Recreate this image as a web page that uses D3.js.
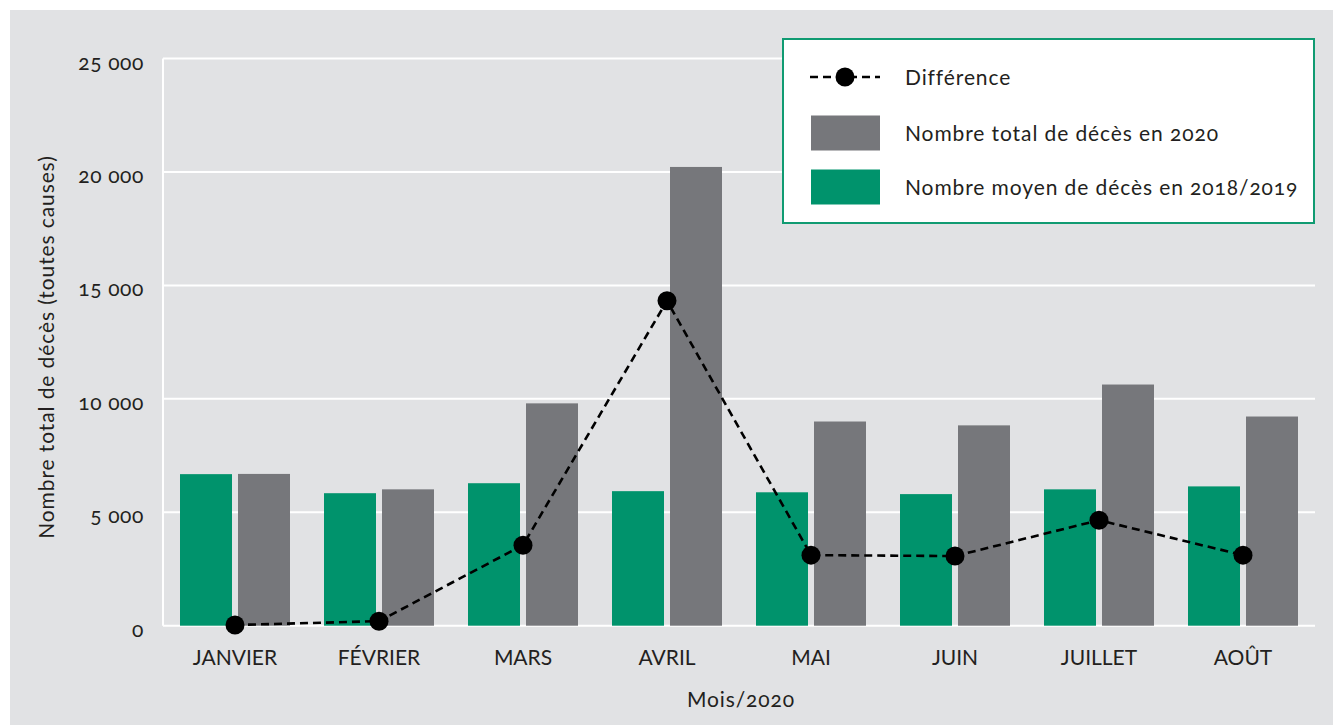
<!DOCTYPE html>
<html lang="fr">
<head>
<meta charset="utf-8">
<script src="https://cdn.jsdelivr.net/npm/d3@7/dist/d3.min.js"></script>
<style>
  html, body { margin: 0; padding: 0; background: #ffffff; }
  svg { display: block; }
  text { font-family: Lato, "Open Sans", sans-serif; fill: #231f20; }
  .num { font-feature-settings: "onum" 1; }
</style>
</head>
<body>
<svg id="chart" width="1333" height="725"></svg>
<script>
// Monthly deaths (all causes), 2020 vs. average 2018/2019
const months = ["JANVIER", "FÉVRIER", "MARS", "AVRIL", "MAI", "JUIN", "JUILLET", "AOÛT"];
const average2018_2019 = [6680, 5840, 6280, 5930, 5880, 5800, 6010, 6140];
const total2020 = [6690, 6010, 9800, 20220, 9000, 8830, 10630, 9220];
const difference = [30, 200, 3550, 14320, 3110, 3070, 4650, 3110];
const yTicks = [0, 5000, 10000, 15000, 20000, 25000];
const seriesKeys = ["avg", "total"];
const seriesLabels = {
  diff: "Différence",
  total: "Nombre total de décès en 2020",
  avg: "Nombre moyen de décès en 2018/2019"
};
const colors = { avg: "#00936c", total: "#76777b", diff: "#000000" };

const rows = months.map((m, i) => ({
  month: m,
  avg: average2018_2019[i],
  total: total2020[i],
  diff: difference[i]
}));

const svg = d3.select("#chart");
const W = 1333, H = 725;
const plot = { left: 163, right: 1315, top: 58.5, bottom: 625.7 };
const FS = "21px";

// Panel background
svg.append("rect")
  .attr("x", 10).attr("y", 10)
  .attr("width", W - 10).attr("height", H - 10)
  .attr("fill", "#e1e2e4");

const x = d3.scaleBand()
  .domain(months)
  .range([plot.left, plot.right])
  .paddingInner(34 / 144)
  .paddingOuter(17 / 144);

const xSub = d3.scaleBand()
  .domain(seriesKeys)
  .range([0, x.bandwidth()])
  .paddingInner(6 / 58)
  .paddingOuter(0);

const y = d3.scaleLinear()
  .domain([0, 25000])
  .range([plot.bottom, plot.top]);

const fmt = v => d3.format(",")(v).replace(/,/g, " ");

// Horizontal grid lines
svg.append("g")
  .selectAll("line")
  .data(yTicks)
  .join("line")
  .attr("x1", plot.left).attr("x2", plot.right)
  .attr("y1", d => y(d)).attr("y2", d => y(d))
  .attr("stroke", "#ffffff").attr("stroke-width", 2);

// Left axis line
svg.append("line")
  .attr("x1", plot.left).attr("x2", plot.left)
  .attr("y1", y(25000)).attr("y2", y(0))
  .attr("stroke", "#ffffff").attr("stroke-width", 2);

// Y axis tick labels
const yAxis = d3.axisLeft(y).tickValues(yTicks).tickFormat(d => d === 0 ? "0" : fmt(d)).tickSize(0).tickPadding(19);
const yg = svg.append("g").attr("transform", `translate(${plot.left},0)`).call(yAxis);
yg.select(".domain").remove();
yg.selectAll("text")
  .attr("class", "num")
  .style("font-family", "Lato, sans-serif")
  .style("font-size", FS)
  .style("letter-spacing", "0.6px")
  .style("white-space", "pre")
  .attr("fill", "#231f20")
  .attr("dy", "0.5em");

// X axis labels
const xAxis = d3.axisBottom(x).tickSize(0).tickPadding(24);
const xg = svg.append("g").attr("transform", `translate(0,${plot.bottom})`).call(xAxis);
xg.select(".domain").remove();
xg.selectAll("text")
  .style("font-family", "Lato, sans-serif")
  .style("font-size", FS)
  .attr("fill", "#231f20");

// Axis titles
svg.append("text")
  .attr("transform", `translate(54,${(plot.top + plot.bottom) / 2 + 5}) rotate(-90)`)
  .attr("text-anchor", "middle")
  .style("font-size", FS)
  .style("letter-spacing", "0.9px")
  .text("Nombre total de décès (toutes causes)");

svg.append("text")
  .attr("class", "num")
  .attr("x", (plot.left + plot.right) / 2 + 2)
  .attr("y", 707)
  .attr("text-anchor", "middle")
  .style("font-size", FS)
  .style("letter-spacing", "0.9px")
  .text("Mois/2020");

// Bars
const groups = svg.append("g")
  .selectAll("g")
  .data(rows)
  .join("g")
  .attr("transform", d => `translate(${x(d.month)},0)`);

groups.selectAll("rect")
  .data(d => seriesKeys.map(k => ({ key: k, value: d[k] })))
  .join("rect")
  .attr("x", d => xSub(d.key))
  .attr("width", xSub.bandwidth())
  .attr("y", d => y(d.value))
  .attr("height", d => y(0) - y(d.value))
  .attr("fill", d => colors[d.key]);

// Difference line
const cx = d => x(d.month) + x.bandwidth() / 2;
svg.append("path")
  .datum(rows)
  .attr("fill", "none")
  .attr("stroke", colors.diff)
  .attr("stroke-width", 2.6)
  .attr("stroke-dasharray", "8,5")
  .attr("d", d3.line().x(cx).y(d => y(d.diff)));

svg.append("g")
  .selectAll("circle")
  .data(rows)
  .join("circle")
  .attr("cx", cx)
  .attr("cy", d => y(d.diff))
  .attr("r", 9.5)
  .attr("fill", colors.diff);

// Legend
const lg = svg.append("g");
lg.append("rect")
  .attr("x", 783).attr("y", 39)
  .attr("width", 531).attr("height", 184)
  .attr("fill", "#ffffff")
  .attr("stroke", "#109b72")
  .attr("stroke-width", 2);

const legendItems = [
  { key: "diff", y: 77 },
  { key: "total", y: 133 },
  { key: "avg", y: 187 }
];
legendItems.forEach(it => {
  if (it.key === "diff") {
    lg.append("line")
      .attr("x1", 810).attr("x2", 880)
      .attr("y1", it.y).attr("y2", it.y)
      .attr("stroke", colors.diff)
      .attr("stroke-width", 2.6)
      .attr("stroke-dasharray", "8,5");
    lg.append("circle").attr("cx", 845).attr("cy", it.y).attr("r", 9.5).attr("fill", colors.diff);
  } else {
    lg.append("rect")
      .attr("x", 811).attr("y", it.y - 17.5)
      .attr("width", 69).attr("height", 35)
      .attr("fill", colors[it.key]);
  }
  lg.append("text")
    .attr("class", "num")
    .attr("x", 905).attr("y", it.y + 7.5)
    .style("font-size", FS)
    .style("letter-spacing", "0.9px")
    .text(seriesLabels[it.key]);
});
</script>
</body>
</html>
